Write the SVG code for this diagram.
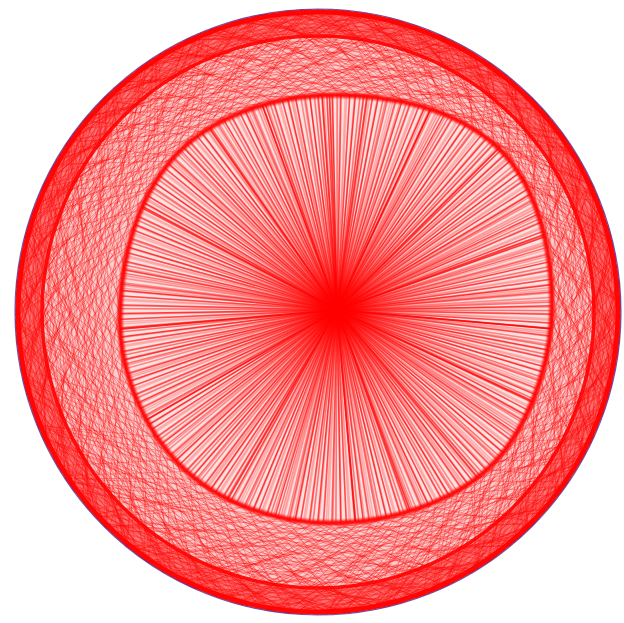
<svg xmlns="http://www.w3.org/2000/svg" width="624" height="623" viewBox="0 0 624 623">
<style>
.ch{stroke:#ff0000;stroke-width:0.9;stroke-opacity:0.34;fill:none}
.sp{stroke:#ff0000;stroke-width:1.5;fill:none}
.dk{stroke:#ff0000;stroke-width:1.8;stroke-opacity:0.75;fill:none}
</style>
<defs>
<filter id="soft" x="-5%" y="-5%" width="110%" height="110%"><feGaussianBlur stdDeviation="0.45"/></filter>
<filter id="soft2" x="-5%" y="-5%" width="110%" height="110%"><feGaussianBlur stdDeviation="1.1"/></filter>
<clipPath id="disc"><circle cx="318" cy="312" r="303"/></clipPath>
<clipPath id="holeclip"><path d="M335,95 C391,95 453,108 495,145 C537,182 552,248 552,305 C552,355 535,410 505,450 C467,500 393,523 330,523 C276,523 218,503 180,465 C143,428 120,372 120,320 C120,267 133,210 165,168 C202,118 273,95 335,95 Z"/></clipPath>
<g id="A">
<line x1="-320" y1="-296" x2="320" y2="-296"/>
<line x1="-320" y1="-287" x2="320" y2="-287" transform="rotate(3.1)"/>
<line x1="-320" y1="-279" x2="320" y2="-279" transform="rotate(6.7)"/>
<line x1="-320" y1="-270" x2="320" y2="-270" transform="rotate(1.4)"/>
<line x1="-320" y1="-259" x2="320" y2="-259" transform="rotate(8.2)"/>
<line x1="-320" y1="-247" x2="320" y2="-247" transform="rotate(4.6)"/>
<line x1="-320" y1="-234" x2="320" y2="-234" transform="rotate(9.1)"/>
<line x1="-320" y1="-222" x2="320" y2="-222" transform="rotate(2.5)"/>
<line x1="-320" y1="-208" x2="320" y2="-208" transform="rotate(7.3)"/>
<line x1="-320" y1="-190" x2="320" y2="-190" transform="rotate(5.2)"/>
<line x1="-320" y1="-168" x2="320" y2="-168" transform="rotate(0.8)"/>
<line x1="-320" y1="-140" x2="320" y2="-140" transform="rotate(6)"/>
</g>
<g id="B">
<line x1="-320" y1="-299" x2="320" y2="-299" transform="rotate(1.7)"/>
<line x1="-320" y1="-292" x2="320" y2="-292" transform="rotate(5.9)"/>
<line x1="-320" y1="-283" x2="320" y2="-283" transform="rotate(8.8)"/>
<line x1="-320" y1="-275" x2="320" y2="-275" transform="rotate(3.6)"/>
<line x1="-320" y1="-265" x2="320" y2="-265" transform="rotate(0.4)"/>
<line x1="-320" y1="-253" x2="320" y2="-253" transform="rotate(6.4)"/>
<line x1="-320" y1="-241" x2="320" y2="-241" transform="rotate(2.9)"/>
<line x1="-320" y1="-228" x2="320" y2="-228" transform="rotate(9.7)"/>
<line x1="-320" y1="-216" x2="320" y2="-216" transform="rotate(4.1)"/>
<line x1="-320" y1="-199" x2="320" y2="-199" transform="rotate(1.1)"/>
<line x1="-320" y1="-178" x2="320" y2="-178" transform="rotate(7.9)"/>
<line x1="-320" y1="-155" x2="320" y2="-155" transform="rotate(3.3)"/>
</g>
<g id="S">
<line y2="-260" stroke-opacity=".3"/>
<line y2="-260" stroke-opacity=".55" transform="rotate(1.1)"/>
<line y2="-260" stroke-opacity=".25" transform="rotate(2.6)"/>
<line y2="-260" stroke-opacity=".35" transform="rotate(3.4)"/>
<line y2="-260" stroke-opacity=".7" transform="rotate(4.9)"/>
<line y2="-260" stroke-opacity=".28" transform="rotate(6.2)"/>
<line y2="-260" stroke-opacity=".4" transform="rotate(7)"/>
<line y2="-260" stroke-opacity=".22" transform="rotate(8.3)"/>
<line y2="-260" stroke-opacity=".5" transform="rotate(9.5)"/>
<line y2="-260" stroke-opacity=".32" transform="rotate(10.8)"/>
</g>
<g id="SS">
<use href="#S"/><use href="#S" transform="rotate(12.4)"/><use href="#S" transform="rotate(23.9)"/><use href="#S" transform="rotate(36.2)"/><use href="#S" transform="rotate(48.1)"/><use href="#S" transform="rotate(59.6)"/><use href="#S" transform="rotate(72.3)"/><use href="#S" transform="rotate(84)"/><use href="#S" transform="rotate(95.8)"/><use href="#S" transform="rotate(108.2)"/><use href="#S" transform="rotate(119.7)"/><use href="#S" transform="rotate(132.1)"/><use href="#S" transform="rotate(143.9)"/><use href="#S" transform="rotate(155.6)"/><use href="#S" transform="rotate(168)"/><use href="#S" transform="rotate(180.3)"/><use href="#S" transform="rotate(191.8)"/><use href="#S" transform="rotate(204.2)"/><use href="#S" transform="rotate(216)"/><use href="#S" transform="rotate(227.7)"/><use href="#S" transform="rotate(240.1)"/><use href="#S" transform="rotate(251.9)"/><use href="#S" transform="rotate(264.2)"/><use href="#S" transform="rotate(275.8)"/><use href="#S" transform="rotate(288.1)"/><use href="#S" transform="rotate(300)"/><use href="#S" transform="rotate(311.7)"/><use href="#S" transform="rotate(324.3)"/><use href="#S" transform="rotate(335.9)"/><use href="#S" transform="rotate(347.8)"/>
</g>
</defs>
<rect width="624" height="623" fill="#ffffff"/>
<g id="disc-base"><circle cx="318" cy="312" r="303" fill="#f9cdcd"/></g>
<g id="connectors">
<g id="chords" class="ch" clip-path="url(#disc)">
<g transform="translate(318 312)" filter="url(#soft)">
<use href="#A"/><use href="#A" transform="rotate(10.3)"/><use href="#A" transform="rotate(19.7)"/><use href="#A" transform="rotate(31)"/><use href="#A" transform="rotate(40.2)"/><use href="#A" transform="rotate(49.5)"/><use href="#A" transform="rotate(61)"/><use href="#A" transform="rotate(70.4)"/><use href="#A" transform="rotate(79.8)"/><use href="#A" transform="rotate(91.1)"/><use href="#A" transform="rotate(100.6)"/><use href="#A" transform="rotate(109.9)"/><use href="#A" transform="rotate(121.3)"/><use href="#A" transform="rotate(130.2)"/><use href="#A" transform="rotate(140.8)"/><use href="#A" transform="rotate(150.1)"/><use href="#A" transform="rotate(160.5)"/><use href="#A" transform="rotate(171)"/><use href="#A" transform="rotate(179.6)"/><use href="#A" transform="rotate(190.8)"/><use href="#A" transform="rotate(200.3)"/><use href="#A" transform="rotate(210.9)"/><use href="#A" transform="rotate(219.7)"/><use href="#A" transform="rotate(230.4)"/><use href="#A" transform="rotate(241.2)"/><use href="#A" transform="rotate(250.1)"/><use href="#A" transform="rotate(259.7)"/><use href="#A" transform="rotate(270.6)"/><use href="#A" transform="rotate(280.2)"/><use href="#A" transform="rotate(290.9)"/><use href="#A" transform="rotate(300.4)"/><use href="#A" transform="rotate(309.8)"/><use href="#A" transform="rotate(320.7)"/><use href="#A" transform="rotate(330.1)"/><use href="#A" transform="rotate(340.6)"/><use href="#A" transform="rotate(349.9)"/>
<use href="#B" transform="rotate(5.2)"/><use href="#B" transform="rotate(14.7)"/><use href="#B" transform="rotate(25.5)"/><use href="#B" transform="rotate(35.3)"/><use href="#B" transform="rotate(44.8)"/><use href="#B" transform="rotate(55.9)"/><use href="#B" transform="rotate(65.1)"/><use href="#B" transform="rotate(74.6)"/><use href="#B" transform="rotate(86.2)"/><use href="#B" transform="rotate(95.4)"/><use href="#B" transform="rotate(104.9)"/><use href="#B" transform="rotate(115.8)"/><use href="#B" transform="rotate(125.3)"/><use href="#B" transform="rotate(135.6)"/><use href="#B" transform="rotate(145.2)"/><use href="#B" transform="rotate(155.9)"/><use href="#B" transform="rotate(165.4)"/><use href="#B" transform="rotate(174.8)"/><use href="#B" transform="rotate(185.7)"/><use href="#B" transform="rotate(195.1)"/><use href="#B" transform="rotate(205.6)"/><use href="#B" transform="rotate(215.3)"/><use href="#B" transform="rotate(224.9)"/><use href="#B" transform="rotate(235.8)"/><use href="#B" transform="rotate(245.5)"/><use href="#B" transform="rotate(255.2)"/><use href="#B" transform="rotate(265.1)"/><use href="#B" transform="rotate(275.4)"/><use href="#B" transform="rotate(285.7)"/><use href="#B" transform="rotate(295.2)"/><use href="#B" transform="rotate(305.1)"/><use href="#B" transform="rotate(315.6)"/><use href="#B" transform="rotate(325.2)"/><use href="#B" transform="rotate(335.4)"/><use href="#B" transform="rotate(344.7)"/><use href="#B" transform="rotate(355.1)"/>
</g>
</g>
<g id="outer-band" fill="none" stroke="#ff0000" filter="url(#soft)">
<circle cx="318" cy="312" r="288" stroke-width="22" stroke-opacity="0.45"/>
<circle cx="318" cy="312" r="276" stroke-width="3.5" stroke-opacity="0.9"/>
<circle cx="318" cy="312" r="300" stroke-width="5" stroke-opacity="0.95"/>
</g>
<g id="hole"><path d="M335,95 C391,95 453,108 495,145 C537,182 552,248 552,305 C552,355 535,410 505,450 C467,500 393,523 330,523 C276,523 218,503 180,465 C143,428 120,372 120,320 C120,267 133,210 165,168 C202,118 273,95 335,95 Z" fill="#fde0e0"/></g>
<g id="spokes" clip-path="url(#holeclip)">
<g class="sp" transform="translate(337 310)" filter="url(#soft)">
<use href="#SS"/>
<use href="#SS" transform="rotate(6.1)"/>
</g>
<g class="dk" transform="translate(337 310)">
<line y2="-260" transform="rotate(-4)"/><line y2="-260" transform="rotate(-2)"/><line y2="-260" transform="rotate(8)"/><line y2="-260" transform="rotate(-35)"/><line y2="-260" transform="rotate(-62)"/><line y2="-260" transform="rotate(-95)"/><line y2="-260" transform="rotate(-120)"/><line y2="-260" transform="rotate(-150)"/><line y2="-260" transform="rotate(175)"/><line y2="-260" transform="rotate(160)"/><line y2="-260" transform="rotate(140)"/><line y2="-260" transform="rotate(115)"/><line y2="-260" transform="rotate(95)"/><line y2="-260" transform="rotate(70)"/><line y2="-260" transform="rotate(45)"/><line y2="-260" transform="rotate(25)"/><line y2="-260" transform="rotate(-20)"/>
</g>
</g>
<g id="hole-edge" filter="url(#soft2)"><path d="M335,95 C391,95 453,108 495,145 C537,182 552,248 552,305 C552,355 535,410 505,450 C467,500 393,523 330,523 C276,523 218,503 180,465 C143,428 120,372 120,320 C120,267 133,210 165,168 C202,118 273,95 335,95 Z" fill="none" stroke="#ff0000" stroke-width="5" stroke-opacity="0.95"/></g>
</g>
<g id="rim"><circle cx="318" cy="312" r="303" fill="none" stroke="#4a2a90" stroke-width="1.2" stroke-opacity="0.75"/></g>
</svg>
